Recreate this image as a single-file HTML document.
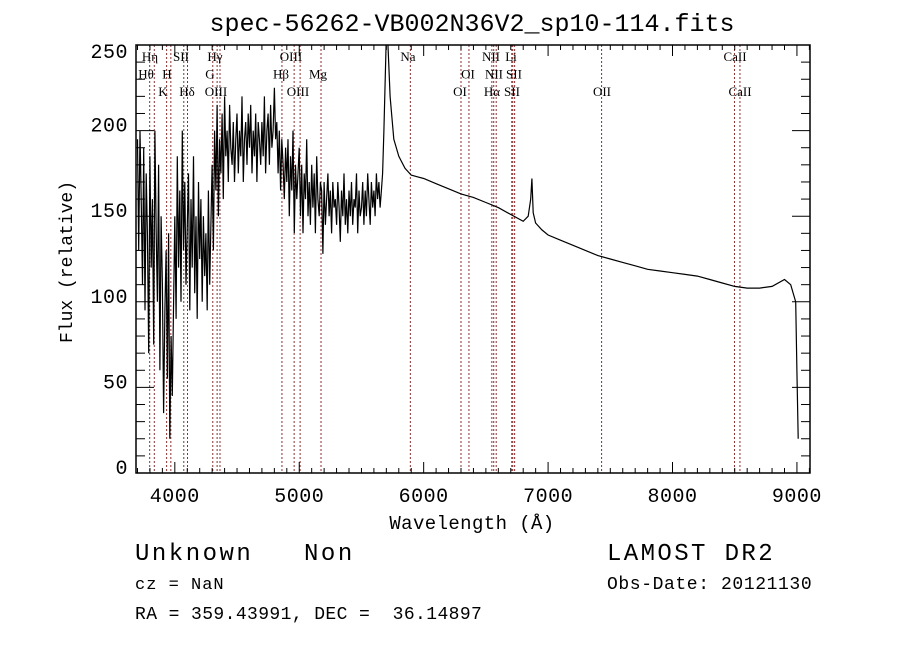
<!DOCTYPE html>
<html><head><meta charset="utf-8"><style>
body{margin:0;background:#fff;width:900px;height:649px;overflow:hidden}
svg{display:block}
.m{font-family:"Liberation Mono","DejaVu Sans Mono",monospace;fill:#000}
.s{font-family:"Liberation Serif",serif;font-size:13px;fill:#000}
</style></head><body>
<svg id="c" width="900" height="649" xmlns="http://www.w3.org/2000/svg">
<text class="m" x="472" y="31" font-size="25" text-anchor="middle">spec-56262-VB002N36V2_sp10-114.fits</text>
<g id="plot"></g>
<text class="m" x="472" y="529" font-size="19" letter-spacing="0.4" text-anchor="middle">Wavelength (Å)</text>
<text class="m" x="0" y="0" font-size="18" text-anchor="middle" transform="translate(72,262) rotate(-90)">Flux (relative)</text>
<text class="m" x="135" y="560" font-size="24" letter-spacing="2.5">Unknown&#160;&#160;&#160;Non</text>
<text class="m" x="607" y="560" font-size="24" letter-spacing="2.4">LAMOST DR2</text>
<text class="m" x="135" y="589" font-size="17" letter-spacing="1">cz = NaN</text>
<text class="m" x="607" y="589" font-size="18" letter-spacing="0.6">Obs-Date: 20121130</text>
<text class="m" x="135" y="619" font-size="18" letter-spacing="0.4">RA = 359.43991, DEC =&#160;&#160;36.14897</text>
</svg>
<script>
const blueStart = 3700;
const blueStep = 10;
const blueFlux = [195,130,200,160,110,190,95,175,140,70,
185,120,160,75,200,140,100,180,60,150,
110,35,95,130,55,140,20,80,45,100,
150,90,185,120,165,100,200,130,170,110,
145,175,95,160,120,185,105,150,90,170,
125,160,100,150,115,140,95,165,110,145,
180,130,200,165,215,150,195,175,210,160,
220,185,200,170,215,190,180,205,170,195,
210,175,200,185,220,170,195,205,180,210,
190,215,175,200,185,210,170,205,195,180,
205,185,220,175,200,210,180,215,190,200,
225,195,205,175,200,165,195,180,160,190,
170,195,150,185,165,200,140,180,160,175,
190,150,180,140,175,160,195,150,170,145,
180,155,175,140,185,160,150,170,165,128,
170,145,160,175,150,165,140,170,155,160,
145,170,155,135,165,150,175,145,160,140,
165,150,170,145,160,155,175,140,165,150,
155,170,145,165,150,175,160,145,170,155,
165,150,175,160,170,155,165,175];
const redWave = [5680,5700,5710,5730,5760,5800,5850,5900,5950,6000,6100,6200,6300,6400,6500,6600,6700,6800,6840,6860,6870,6880,6900,6950,7000,7100,7200,7300,7400,7500,7600,7700,7800,7900,8000,8100,8200,8300,8400,8500,8600,8700,8800,8900,8950,8990,9000,9010];
const redFlux = [200,255,255,220,195,185,178,174,173,172,169,166,163,161,158,155,151,147,150,160,172,152,146,142,139,136,133,130,127,125,123,121,119,118,117,116,115,113,111,109,108,108,109,113,110,100,60,20];
const lineWaves = [3798,3835,3934,3968,4072,4102,4305,4340,4363,4861,4959,5007,5175,5893,6300,6364,6548,6563,6583,6708,6716,6731,7430,8498,8542];
const xTicks = [4000,5000,6000,7000,8000,9000];
const yTicks = [0,50,100,150,200,250];
const labelNames = ["Hη","SII","Hγ","OIII","Na","NII","Li","CaII","Hθ","H","G","Hβ","Mg","OI","NII","SII","K","Hδ","OIII","OIII","OI","Hα","SII","OII","CaII"];
const labelAt = [[150,1],[181,1],[215,1],[291,1],[408,1],[491,1],[511,1],[735,1],[146,2],[167,2],[210,2],[281,2],[318,2],[468,2],[494,2],[514,2],[163,3],[187,3],[216,3],[298,3],[460,3],[492,3],[512,3],[602,3],[740,3]];

const L=136,R=810,T=45,B=473,XMIN=3688,XMAX=9105,YMIN=0,YMAX=250;
const xs=w=>L+(w-XMIN)/(XMAX-XMIN)*(R-L);
const ys=f=>B-(Math.min(f,260)-YMIN)/(YMAX-YMIN)*(B-T);
const NS='http://www.w3.org/2000/svg';
const g=document.getElementById('plot');
function mk(t,a){const e=document.createElementNS(NS,t);for(const k in a)e.setAttribute(k,a[k]);g.appendChild(e);return e;}
const clip=document.createElementNS(NS,'clipPath');clip.id='cp';
const cr=document.createElementNS(NS,'rect');cr.setAttribute('x',L);cr.setAttribute('y',T);cr.setAttribute('width',R-L);cr.setAttribute('height',B-T);clip.appendChild(cr);g.appendChild(clip);

lineWaves.forEach(w=>{const e=mk('line',{x1:xs(w),x2:xs(w),y1:T,y2:B,stroke:'#8b3030','stroke-width':1,'stroke-dasharray':'2,2'});

});

labelAt.forEach((p,i)=>{const e=mk('text',{x:p[0],y:49+(p[1]-1)*17.5+12,class:'s','text-anchor':'middle'});e.textContent=labelNames[i];

});

let pts=[];
blueFlux.forEach((f,i)=>pts.push(xs(blueStart+i*blueStep).toFixed(1)+','+ys(f).toFixed(1)));
redWave.forEach((w,i)=>pts.push(xs(w).toFixed(1)+','+ys(redFlux[i]).toFixed(1)));
const sp=mk('polyline',{points:pts.join(' '),fill:'none',stroke:'#000','stroke-width':1.2,'clip-path':'url(#cp)'});



const fr=mk('rect',{x:L,y:T,width:R-L,height:B-T,fill:'none',stroke:'#000','stroke-width':1.5});



for(let w=3700;w<=9100;w+=100){const maj=w%1000===0;const len=maj?11:5;
mk('line',{x1:xs(w),x2:xs(w),y1:B,y2:B-len,stroke:'#000'});
mk('line',{x1:xs(w),x2:xs(w),y1:T,y2:T+len,stroke:'#000'});}
for(let f=0;f<=250;f+=10){const maj=f%50===0;const len=maj?18:9;
mk('line',{x1:L,x2:L+len,y1:ys(f),y2:ys(f),stroke:'#000'});
mk('line',{x1:R,x2:R-len,y1:ys(f),y2:ys(f),stroke:'#000'});}
xTicks.forEach(w=>{const e=mk('text',{x:xs(w),y:502,class:'m','font-size':20,'letter-spacing':0.5,'text-anchor':'middle'});e.textContent=w;

});
yTicks.forEach(f=>{const e=mk('text',{x:128,y:Math.max(ys(f)+1,58),class:'m','font-size':20,'letter-spacing':0.5,'text-anchor':'end'});e.textContent=f;

});
</script>
</body></html>
